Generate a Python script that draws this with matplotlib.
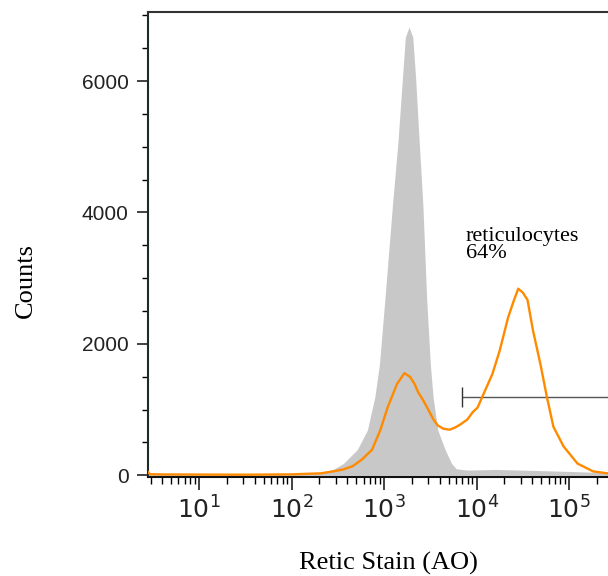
import numpy as np
import matplotlib
matplotlib.use("Agg")
import matplotlib.pyplot as plt
from matplotlib.ticker import LogLocator, MultipleLocator, NullFormatter

plt.rcParams['mathtext.fontset'] = 'custom'
plt.rcParams['mathtext.rm'] = 'Liberation Sans'
plt.rcParams['mathtext.default'] = 'regular'

# unstained control (gray, filled) -- log10 of stain intensity vs counts
ctrl_log = [0.449, 0.47, 0.6, 1.0, 1.5, 2.0, 2.3, 2.45, 2.56, 2.71, 2.82, 2.90,
            2.95, 3.01, 3.09, 3.15, 3.20, 3.23, 3.27, 3.31, 3.34, 3.38, 3.42,
            3.46, 3.50, 3.53, 3.58, 3.66, 3.73, 3.78, 3.9, 4.2, 4.5, 5.0, 5.42]
ctrl_counts = [60, 20, 12, 10, 10, 15, 40, 90, 180, 390, 690, 1190,
               1690, 2700, 4100, 5070, 6070, 6670, 6820, 6670, 6070, 5070, 4100,
               2700, 1690, 1190, 690, 390, 180, 100, 80, 90, 80, 60, 40]

# stained sample (orange line)
samp_log = [0.449, 0.47, 0.6, 1.0, 1.5, 2.0, 2.2, 2.31, 2.45, 2.56, 2.66, 2.76,
            2.87, 2.96, 3.04, 3.14, 3.22, 3.28, 3.33, 3.37, 3.42, 3.47, 3.53,
            3.58, 3.64, 3.71, 3.77, 3.82, 3.9, 3.96, 4.01, 4.06, 4.17, 4.25,
            4.34, 4.40, 4.45, 4.50, 4.55, 4.61, 4.69, 4.76, 4.83, 4.94, 5.09,
            5.26, 5.42]
samp_counts = [50, 18, 14, 12, 10, 15, 25, 30, 60, 90, 140, 240,
               390, 690, 1040, 1390, 1555, 1500, 1390, 1260, 1150, 1020, 860,
               760, 710, 695, 730, 770, 850, 965, 1030, 1190, 1540, 1900,
               2400, 2650, 2840, 2780, 2670, 2200, 1690, 1190, 740, 440, 180,
               60, 30]

gate_start_log = 3.84
gate_level = 1190
gate_label = "reticulocytes"
gate_pct = "64%"

xtick_vals = [1e1, 1e2, 1e3, 1e4, 1e5]
xtick_labels = ['$10^{1}$', '$10^{2}$', '$10^{3}$', '$10^{4}$', '$10^{5}$']
ytick_vals = [0, 2000, 4000, 6000]

ctrl_x = 10 ** np.array(ctrl_log)
samp_x = 10 ** np.array(samp_log)

fig = plt.figure(figsize=(6.08, 5.76), dpi=100)
ax = fig.add_axes([148 / 608, 1 - 477 / 576, 460 / 608, 465 / 576])

ax.fill_between(ctrl_x, 0, ctrl_counts, color='#c8c8c8', linewidth=0, zorder=1)
ax.plot(samp_x, samp_counts, color='#ff8a00', linewidth=1.7, zorder=3)

# gate marker
ax.hlines(gate_level, 10 ** gate_start_log, 10 ** 5.42, color='#555555', linewidth=1, zorder=2)
ax.vlines(10 ** gate_start_log, gate_level - 150, gate_level + 150, color='#333333', linewidth=1, zorder=2)
ax.text(10 ** 3.885, 3560, gate_label, family='Liberation Serif', fontsize=16, color='black')
ax.text(10 ** 3.885, 3300, gate_pct, family='Liberation Serif', fontsize=16, color='black')

ax.set_xscale('log')
ax.set_xlim(10 ** 0.449, 10 ** 5.42)
ax.set_ylim(-25, 7050)

ax.set_xticks(xtick_vals)
ax.set_xticklabels(xtick_labels)
ax.xaxis.set_minor_locator(LogLocator(base=10, subs=np.arange(2, 10), numticks=20))
ax.xaxis.set_minor_formatter(NullFormatter())
ax.set_yticks(ytick_vals)
ax.yaxis.set_minor_locator(MultipleLocator(500))

ax.tick_params(axis='x', which='major', direction='out', length=9, width=1.2, pad=5,
               labelsize=18, colors='#222222')
ax.tick_params(axis='x', which='minor', direction='out', length=5, width=1.0)
ax.tick_params(axis='y', which='major', direction='out', length=8, width=1.2, pad=6,
               labelsize=15, colors='#222222')
ax.tick_params(axis='y', which='minor', direction='out', length=4, width=1.0)
for lab in ax.get_yticklabels():
    lab.set_family('Liberation Sans')

ax.spines['right'].set_visible(False)
ax.spines['left'].set_color('#1d2b2b')
ax.spines['bottom'].set_color('#111111')
ax.spines['top'].set_color('#333333')
for s in ['left', 'bottom', 'top']:
    ax.spines[s].set_linewidth(1.5)

fig.text(388 / 608, 1 - 570 / 576, 'Retic Stain (AO)', family='Liberation Serif',
         fontsize=19, ha='center', va='baseline')
fig.text(26 / 608, 1 - 281 / 576, 'Counts', family='Liberation Serif', fontsize=19,
         rotation=90, ha='center', va='center')

fig.savefig('out.png', dpi=100)
